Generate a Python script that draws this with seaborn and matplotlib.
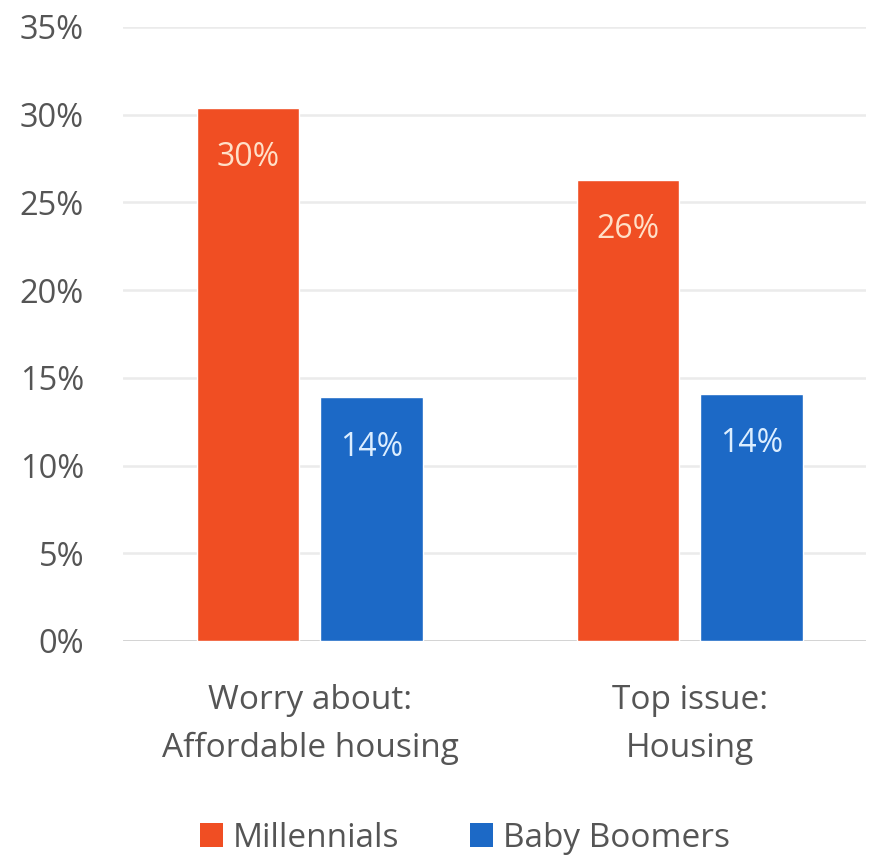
import matplotlib
matplotlib.use("Agg")
import matplotlib.pyplot as plt
import seaborn as sns
import pandas as pd
from matplotlib.patches import Patch

# Survey results: share of respondents (%)
categories = ["Worry about:\nAffordable housing", "Top issue:\nHousing"]
generations = ["Millennials", "Baby Boomers"]
millennials = [30.4, 26.3]
baby_boomers = [13.9, 14.1]
y_ticks = [0, 5, 10, 15, 20, 25, 30, 35]

colors = {"Millennials": "#F04E23", "Baby Boomers": "#1C69C6"}
label_colors = {"Millennials": "#FFE0C8", "Baby Boomers": "#DCEEFF"}
text_color = "#555555"

df = pd.DataFrame({
    "category": categories * 2,
    "generation": [generations[0]] * len(categories) + [generations[1]] * len(categories),
    "share": millennials + baby_boomers,
})

sns.set_theme(style="white")
plt.rcParams["font.family"] = ["Open Sans", "DejaVu Sans"]

fig = plt.figure(figsize=(8.69, 8.59), dpi=100)
ax = fig.add_axes([0.1415, 0.2538, 0.855, 0.7148])

sns.barplot(
    data=df, x="category", y="share", hue="generation",
    hue_order=generations, order=categories,
    palette=colors, width=0.65, gap=0.17, saturation=1,
    legend=False, ax=ax,
)

ax.set_xlim(-0.492, 1.463)
ax.set_ylim(0, 35)
ax.set_yticks(y_ticks)
ax.set_yticklabels([f"{t}%" for t in y_ticks])
ax.set_xlabel("")
ax.set_ylabel("")

for t in y_ticks:
    ax.axhline(t, color="#CFCFCF" if t == 0 else "#EBEBEB", lw=2 if t == 0 else 1.8, zorder=0)
ax.set_axisbelow(True)

for s in ax.spines.values():
    s.set_visible(False)

ax.tick_params(axis="y", length=0, pad=28, labelsize=23.5, labelcolor=text_color)
ax.tick_params(axis="x", length=0, pad=31, labelsize=24, labelcolor=text_color)
for lbl in ax.get_xticklabels():
    lbl.set_linespacing(1.6)

# value labels inside the top of each bar
for gen, container in zip(generations, ax.containers):
    for bar in container:
        h = bar.get_height()
        ax.annotate(
            f"{h:.0f}%",
            xy=(bar.get_x() + bar.get_width() / 2, h),
            xytext=(0, -36), textcoords="offset points",
            ha="center", va="center", fontsize=23,
            color=label_colors[gen],
        )

handles = [Patch(facecolor=colors[g], edgecolor="none") for g in generations]
fig.legend(
    handles, generations, loc="center", bbox_to_anchor=(0.535, 0.0244),
    ncol=2, frameon=False, fontsize=24, handlelength=0.7, handleheight=0.7,
    handletextpad=0.3, columnspacing=2.1, labelcolor=text_color,
)

fig.savefig("out.png", dpi=100, facecolor="white")
